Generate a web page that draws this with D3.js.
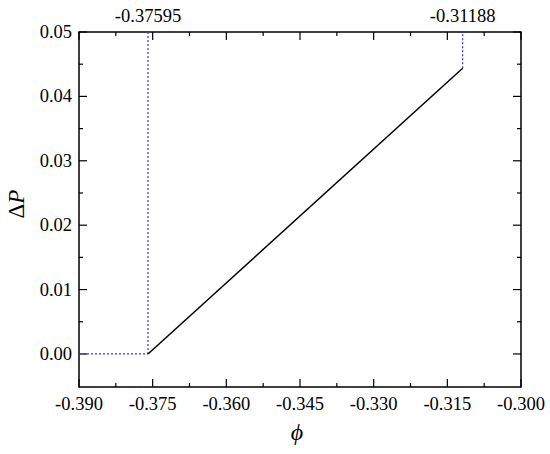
<!DOCTYPE html>
<html><head><meta charset="utf-8">
<script src="https://d3js.org/d3.v7.min.js"></script>
<style>body{margin:0;background:#fff}</style>
</head><body>
<svg id="c" width="550" height="454" font-family="'Liberation Serif', 'Times New Roman', Times, serif"></svg>
<script>
const xTicks = [-0.390, -0.375, -0.360, -0.345, -0.330, -0.315, -0.300];
const yTicks = [0.00, 0.01, 0.02, 0.03, 0.04, 0.05];
const lineX = [-0.37595, -0.31188];
const lineY = [0.0, 0.04436];
const markers = [-0.37595, -0.31188];
const markerLabels = ["-0.37595", "-0.31188"];

const svg = d3.select("#c");
const L = 79, R = 521, T = 32, B = 387;
const x = d3.scaleLinear().domain([-0.390, -0.300]).range([L, R]);
const y = d3.scaleLinear().domain([-0.00513, 0.05]).range([B, T]);
const fx = d => d3.format(".3f")(d).replace("−", "-");

const xMinor = d3.range(-0.390, -0.2999, 0.0075).filter(v => !xTicks.some(t => Math.abs(t - v) < 1e-6));
const yMinor = d3.range(0.005, 0.05, 0.01);

svg.append("rect").attr("x", L).attr("y", T).attr("width", R - L).attr("height", B - T)
  .attr("fill", "none").attr("stroke", "#000").attr("stroke-width", 1.5);

const g = svg.append("g").attr("stroke", "#000").attr("stroke-width", 1.2);
xTicks.forEach(v => {
  g.append("line").attr("x1", x(v)).attr("x2", x(v)).attr("y1", B).attr("y2", B - 8);
  g.append("line").attr("x1", x(v)).attr("x2", x(v)).attr("y1", T).attr("y2", T + 8);
});
xMinor.forEach(v => {
  g.append("line").attr("x1", x(v)).attr("x2", x(v)).attr("y1", B).attr("y2", B - 4);
  g.append("line").attr("x1", x(v)).attr("x2", x(v)).attr("y1", T).attr("y2", T + 4);
});
yTicks.forEach(v => {
  g.append("line").attr("y1", y(v)).attr("y2", y(v)).attr("x1", L).attr("x2", L + 8);
  g.append("line").attr("y1", y(v)).attr("y2", y(v)).attr("x1", R).attr("x2", R - 8);
});
yMinor.forEach(v => {
  g.append("line").attr("y1", y(v)).attr("y2", y(v)).attr("x1", L).attr("x2", L + 4);
  g.append("line").attr("y1", y(v)).attr("y2", y(v)).attr("x1", R).attr("x2", R - 4);
});

svg.append("g").selectAll("text").data(xTicks).join("text")
  .attr("x", d => x(d)).attr("y", B + 23).attr("text-anchor", "middle")
  .attr("font-size", 18.5).text(d => fx(d));
svg.append("g").selectAll("text").data(yTicks).join("text")
  .attr("x", L - 7).attr("y", d => y(d) + 6).attr("text-anchor", "end")
  .attr("font-size", 18.5).text(d => d3.format(".2f")(d));

const blue = "#3333ff";
svg.append("line").attr("x1", x(-0.390)).attr("x2", x(markers[0])).attr("y1", y(0)).attr("y2", y(0))
  .attr("stroke", blue).attr("stroke-width", 1.2).attr("stroke-dasharray", "2,2");
svg.append("line").attr("x1", x(markers[0])).attr("x2", x(markers[0])).attr("y1", y(0)).attr("y2", y(0.05))
  .attr("stroke", blue).attr("stroke-width", 1.2).attr("stroke-dasharray", "2,2");
svg.append("line").attr("x1", x(markers[1])).attr("x2", x(markers[1])).attr("y1", y(lineY[1])).attr("y2", y(0.05))
  .attr("stroke", blue).attr("stroke-width", 1.2).attr("stroke-dasharray", "2,2");

const pts = lineX.map((v, i) => [v, lineY[i]]);
svg.append("path").datum(pts)
  .attr("d", d3.line().x(d => x(d[0])).y(d => y(d[1])))
  .attr("fill", "none").attr("stroke", "#000").attr("stroke-width", 1.5);

svg.append("g").selectAll("text").data(markers).join("text")
  .attr("x", d => x(d)).attr("y", T - 10).attr("text-anchor", "middle")
  .attr("font-size", 18.5).text((d, i) => markerLabels[i]);

const yt = svg.append("text").attr("transform", `translate(24,204) rotate(-90)`)
  .attr("text-anchor", "middle").attr("font-size", 23);
yt.append("tspan").text("Δ");
yt.append("tspan").attr("font-style", "italic").text("P");
svg.append("text").attr("x", 297).attr("y", 440).attr("text-anchor", "middle")
  .attr("font-size", 24).attr("font-style", "italic").text("ϕ");
</script>
</body></html>
